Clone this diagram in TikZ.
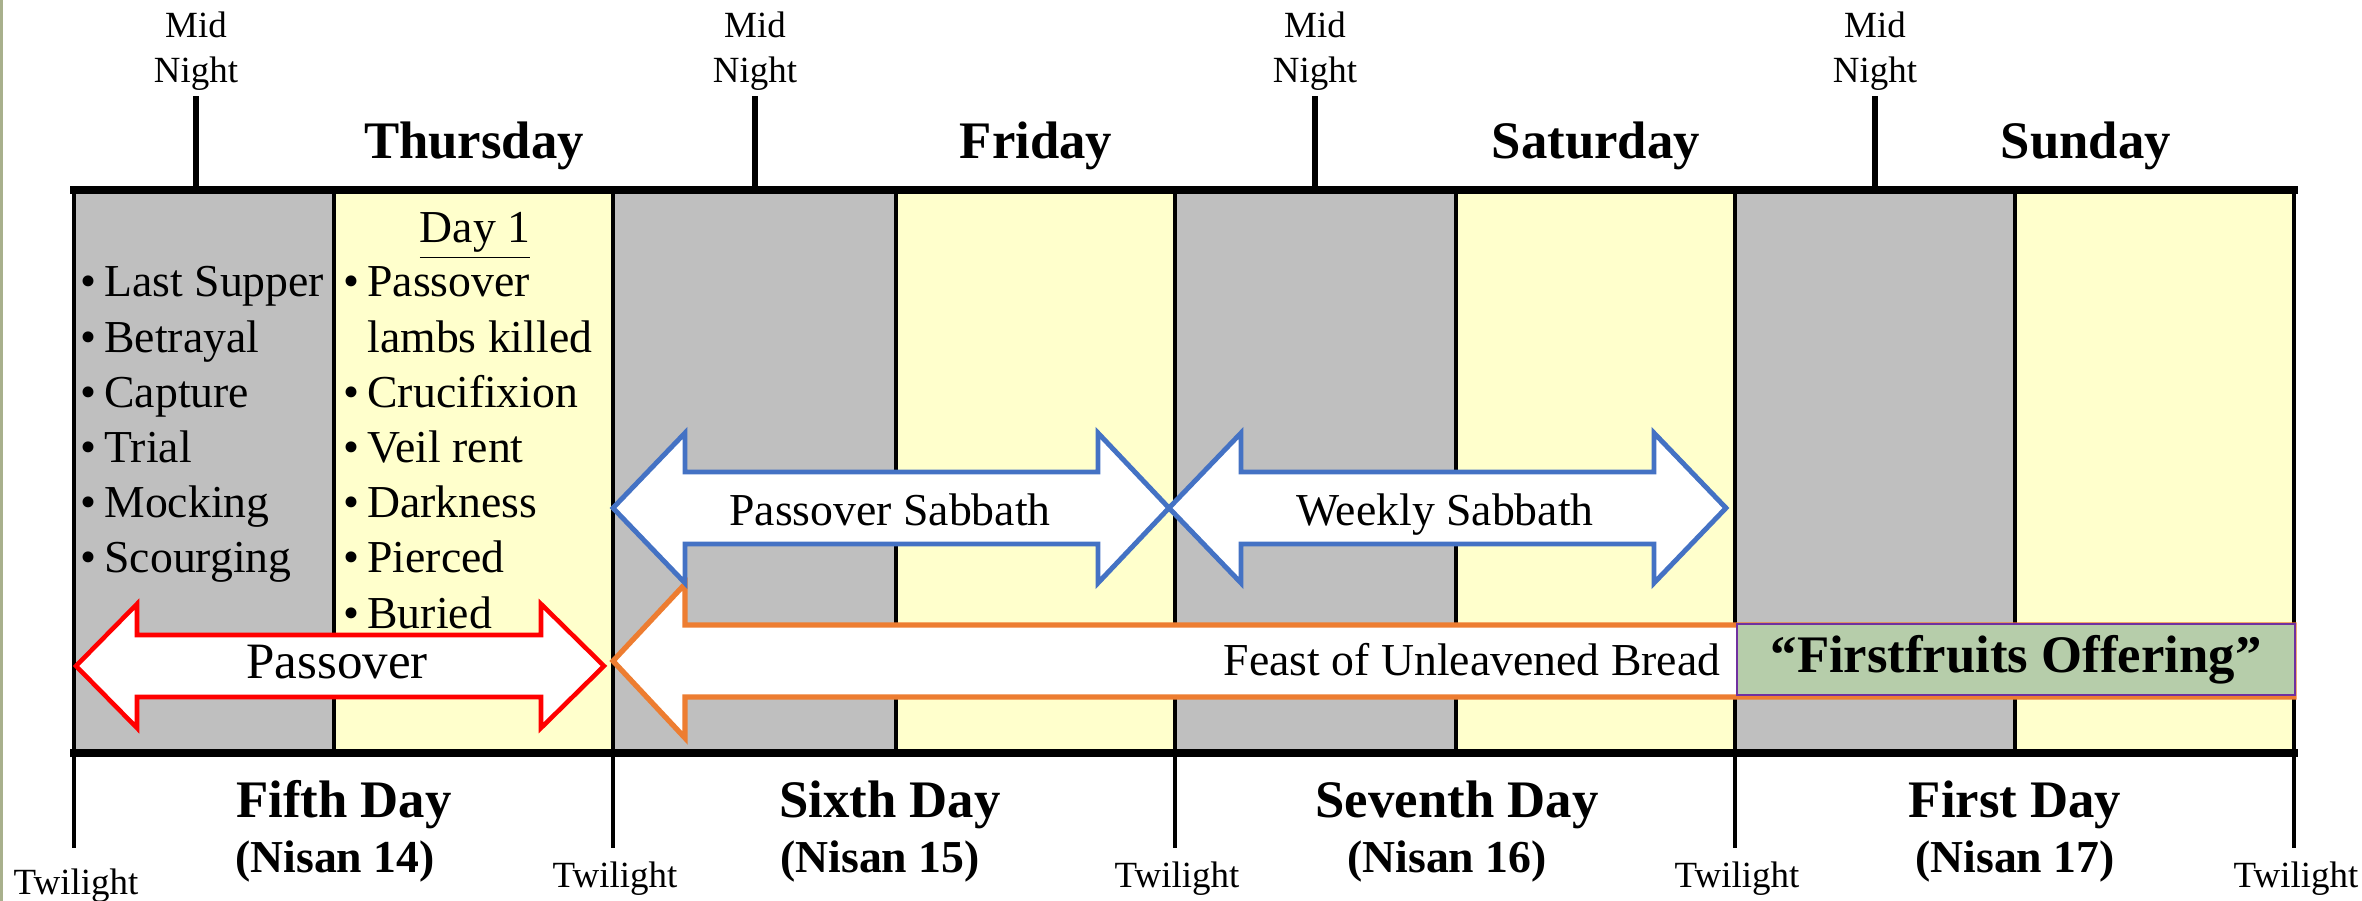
\documentclass[tikz,border=0pt]{standalone}
\usepackage{fontspec}
\setmainfont{Liberation Serif}
\definecolor{nightgrey}{RGB}{191,191,191}
\definecolor{dayyellow}{RGB}{255,255,204}
\definecolor{sabblue}{RGB}{68,114,196}
\definecolor{feastorange}{RGB}{237,125,49}
\definecolor{ffgreen}{RGB}{182,205,170}
\definecolor{ffpurple}{RGB}{112,48,160}
\definecolor{stripolive}{RGB}{168,176,140}
\newcommand{\bul}{\textbullet\hspace{0.17em}}
\begin{document}
\begin{tikzpicture}[
        x=0.01cm, y=-0.01cm,
        every node/.style={inner sep=0pt},
        colline/.style={line width=1.4pt},
        edgeline/.style={line width=2pt, line cap=rect},
        tick/.style={line width=1.5pt},
        twline/.style={line width=1.1pt},
        midlbl/.style={align=center, anchor=south, font=\fontsize{10.5}{12.8}\selectfont},
        twi/.style={anchor=base, font=\fontsize{10.5}{12.8}\selectfont},
        evt/.style={anchor=base west, font=\fontsize{13}{15.8}\selectfont},
        dayhead/.style={anchor=base, font=\bfseries\fontsize{15}{18}\selectfont},
        nisanlbl/.style={anchor=base, font=\bfseries\fontsize{13}{16}\selectfont},
        arrowtxt/.style={anchor=base, font=\fontsize{13}{15.8}\selectfont},
        redarrow/.style={draw=red, fill=white, line width=1.3pt},
        bluearrow/.style={draw=sabblue, fill=white, line width=1.4pt},
        orangearrow/.style={draw=feastorange, fill=white, line width=1.5pt},
        ffbox/.style={draw=ffpurple, fill=ffgreen, line width=0.6pt,
            minimum width=5.58cm, minimum height=0.71cm,
            font=\bfseries\fontsize{15}{18}\selectfont}
    ]
        \useasboundingbox (0,0) rectangle (2362,901);
        \fill[stripolive] (0,0) rectangle (3,901);

        % night and day columns
        \foreach \xa/\xb/\c in {74/334/nightgrey, 334/613/dayyellow, 613/896/nightgrey, 896/1175/dayyellow,
                1175/1456/nightgrey, 1456/1735/dayyellow, 1735/2015/nightgrey, 2015/2294/dayyellow}
            \fill[fill=\c] (\xa,190) rectangle (\xb,753);
        \foreach \x in {74,334,613,896,1175,1456,1735,2015,2294}
            \draw[colline] (\x,190) -- (\x,753);
        \draw[edgeline] (74,190) -- (2294,190);
        \draw[edgeline] (74,753) -- (2294,753);

        % mid night marks
        \foreach \x [count=\i] in {196,755,1315,1875} {
            \coordinate (mt\i) at (\x,190);
            \node[midlbl] (mn\i) at (\x,91) {Mid\\Night};
            \draw[tick] (mt\i) -- ++(0,-94);
        }

        % twilight marks
        \foreach \x/\y [count=\i] in {74/895, 613/888, 1175/888, 1735/888, 2294/888} {
            \coordinate (tt\i) at (\x,753);
            \node[twi] (tw\i) at (\x+2,\y) {Twilight};
            \draw[twline] (tt\i) -- ++(0,95);
        }

        % day names
        \node[dayhead] (thu) at (474,159) {Thursday};
        \node[dayhead] (fri) at (1036,159) {Friday};
        \node[dayhead] (sat) at (1596,159) {Saturday};
        \node[dayhead] (sun) at (2086,159) {Sunday};

        \node[dayhead] (fifth) at (344,818) {Fifth Day};
        \node[dayhead] (sixth) at (890,818) {Sixth Day};
        \node[dayhead] (seventh) at (1457,818) {Seventh Day};
        \node[dayhead] (first) at (2015,818) {First Day};
        \node[nisanlbl] (n14) at (335,873) {(Nisan 14)};
        \node[nisanlbl] (n15) at (880,873) {(Nisan 15)};
        \node[nisanlbl] (n16) at (1447,873) {(Nisan 16)};
        \node[nisanlbl] (n17) at (2015,873) {(Nisan 17)};

        % events
        \foreach \t [count=\i] in {Last Supper, Betrayal, Capture, Trial, Mocking, Scourging}
            \node[evt] (ev\i) at (80,297+55.2*\i-55.2) {\bul\t};
        \node[evt, anchor=base] (day1) at (475,243) {\underline{Day 1}};
        \foreach \t [count=\i] in {\bul Passover, \phantom{\bul}lambs killed,
                \bul Crucifixion, \bul Veil rent, \bul Darkness,
                \bul Pierced, \bul Buried}
            \node[evt] (dy\i) at (343,297+55.2*\i-55.2) {\t};

        % feast arrows
        \draw[orangearrow] (613,661) -- (685,584) -- (685,625) -- (2294,625) -- (2294,697)
            -- (685,697) -- (685,738) -- cycle;
        \draw[redarrow] (76,666) -- (137,604) -- (137,635) -- (541,635) -- (541,604) -- (604,666)
            -- (541,728) -- (541,697) -- (137,697) -- (137,728) -- cycle;
        \draw[bluearrow] (613,508) -- (685,433) -- (685,472) -- (1098,472) -- (1098,433) -- (1169,508)
            -- (1098,583) -- (1098,544) -- (685,544) -- (685,583) -- cycle;
        \draw[bluearrow] (1169,508) -- (1241,433) -- (1241,472) -- (1654,472) -- (1654,433) -- (1726,508)
            -- (1654,583) -- (1654,544) -- (1241,544) -- (1241,583) -- cycle;

        \node[arrowtxt, font=\fontsize{14.5}{17}\selectfont] (pass) at (337,679) {Passover};
        \node[arrowtxt] (passsab) at (890,526) {Passover Sabbath};
        \node[arrowtxt] (weeksab) at (1445,526) {Weekly Sabbath};
        \node[arrowtxt, anchor=base east] (feast) at (1721,676) {Feast of Unleavened Bread};
        \node[ffbox] (ff) at (2016,659.5) {“Firstfruits Offering”};
    \end{tikzpicture}
\end{document}
